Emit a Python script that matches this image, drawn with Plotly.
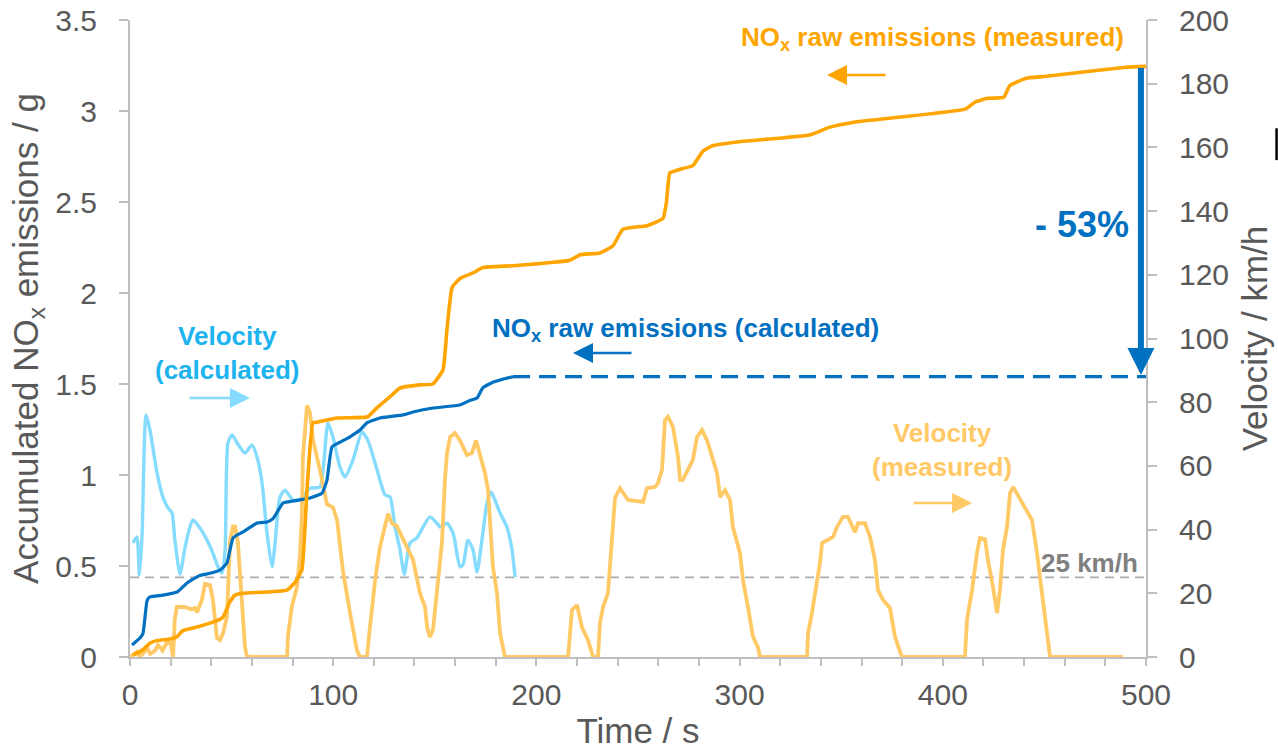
import plotly.graph_objects as go

# ---- measured NOx raw emissions (accumulated, g) ----
nox_meas_t = [1.5, 6.4, 9.8, 13, 19.7, 23, 26, 33, 42.8, 45.8, 49, 51.7, 55.6, 77.3, 81.2, 84.6,
              87, 90, 92, 101.9, 117, 121.6, 128, 132.9, 142.7, 149, 154, 156, 158.5, 162.4,
              168.8, 173.7, 188.5, 216.5, 221.5, 231.3, 237.7, 242.6, 254.4, 262.3, 264, 265.7,
              270.7, 277, 282, 287, 298.7, 335, 344, 357, 411, 416, 422, 430, 433, 441, 450, 490, 500]
nox_meas_g = [0.01, 0.04, 0.075, 0.09, 0.099, 0.11, 0.145, 0.165, 0.2, 0.22, 0.3, 0.34, 0.35, 0.368,
              0.41, 0.48, 0.9, 1.286, 1.29, 1.313, 1.32, 1.37, 1.43, 1.478, 1.495, 1.5, 1.577, 1.8,
              2.03, 2.08, 2.11, 2.14, 2.15, 2.18, 2.21, 2.22, 2.26, 2.35, 2.37, 2.41, 2.5, 2.66,
              2.68, 2.70, 2.78, 2.81, 2.83, 2.87, 2.91, 2.94, 3.01, 3.05, 3.07, 3.075, 3.14, 3.18,
              3.19, 3.24, 3.245]

# ---- calculated NOx raw emissions (accumulated, g) ----
nox_calc_t = [1, 4.9, 6.4, 8.4, 9.8, 16.2, 23.1, 28.1, 34, 39.4, 44.3, 47.7, 50.7, 55.6, 62.5,
              67.4, 70.4, 75.3, 80.2, 88.6, 94.5, 96.9, 99.4, 103.3, 108.3, 113.2, 116.6, 123,
              134.4, 139.3, 149.1, 162.4, 167.3, 170.8, 173.7, 178.6, 183, 188.5]
nox_calc_g = [0.066, 0.104, 0.13, 0.31, 0.33, 0.34, 0.357, 0.407, 0.447, 0.46, 0.478, 0.516,
              0.654, 0.687, 0.736, 0.742, 0.76, 0.846, 0.857, 0.874, 0.9, 0.97, 1.154, 1.18,
              1.21, 1.247, 1.286, 1.313, 1.33, 1.346, 1.368, 1.385, 1.41, 1.423, 1.48, 1.51,
              1.525, 1.54]

# extrapolated end of the calculated curve (dashed)
nox_calc_ext_t = [188.5, 500]
nox_calc_ext_g = [1.54, 1.54]

# ---- measured velocity (km/h) ----
vel_meas_t = [0, 3.4, 5, 8.4, 10, 12.3, 13.8, 16, 18, 20, 21.2, 22, 23, 27, 30, 32, 33, 35.4,
              36.9, 39.4, 40.8, 42.8, 44.3, 45.8, 47.7, 49.2, 50.7, 51.7, 53.1, 55.1, 56.6,
              57.6, 77.3, 77.8, 79.7, 82.2, 83.7, 84.6, 85.1, 87.1, 88.6, 90.1, 93.5, 96.9,
              99.9, 101.9, 104.8, 108.3, 111.7, 113.2, 116.6, 118.1, 120.6, 123, 127, 128.9,
              131.4, 134.4, 136.3, 139.3, 142.7, 145.2, 146.2, 147.6, 149.1, 150.1, 151.6,
              153.5, 154, 155, 156, 157.5, 159.9, 162.4, 165.8, 168.3, 170.3, 172.2, 174.7,
              176.2, 177.2, 178.6, 180.6, 182.1, 184.5, 215.6, 217.5, 220, 222.4, 225.4,
              227.9, 230.3, 231.3, 232.8, 235.2, 237.2, 238.7, 241.1, 245.1, 252.5, 254.4,
              258.4, 259.8, 261.8, 263.3, 264.8, 267.2, 269.7, 270.7, 272.1, 275.6, 277, 279,
              281.5, 284, 286.4, 288.9, 290.4, 292.8, 295.3, 296.7, 300.2, 301.7, 304.1,
              306.6, 309, 310, 333.2, 333.7, 335.6, 337.1, 339.6, 340.6, 343, 346, 347.9,
              350.9, 353.3, 356.8, 358.3, 361.7, 364.2, 366.6, 368.1, 370.6, 374, 376.5,
              379.9, 410.9, 411.9, 414.4, 416.8, 418.3, 420.8, 422.2, 424.7, 426.7, 428.1,
              429.6, 431.6, 433.1, 434.6, 437, 440.5, 443.9, 446.4, 448.8, 451.3, 452.8, 488.7]
vel_meas_kmh = [0, 1.6, 0, 2.8, 1, 2, 3.8, 2, 4.4, 4.4, 0, 11.6, 15.7, 15.7, 15, 15.4, 14, 18,
                23, 22.5, 18, 6, 5.3, 7.5, 12.6, 36, 41, 41, 36, 18, 3, 0, 0, 7, 16, 22, 32.6,
                45, 63, 79, 76.6, 68, 58.7, 48, 47, 43, 27, 13.8, 2, 0, 0, 9.4, 24, 34.5, 45,
                42, 41, 37, 34.5, 30.5, 20, 15.7, 9.4, 6.3, 8.5, 15.7, 24, 35.8, 45, 55.6, 64,
                69, 70.3, 68, 63.4, 64, 68, 64, 57.8, 52.4, 43, 28.3, 20, 7.5, 0, 0, 14.8,
                16.3, 9.4, 5.3, 0, 0, 10.7, 15.7, 20, 39, 50, 53, 49.3, 48.7, 53, 53.4, 54.6,
                58.7, 74.4, 75.4, 72.2, 62.8, 55.6, 55.6, 59.7, 61.9, 69, 71.3, 68, 62.8, 57.8,
                50.2, 52.4, 49.3, 40.8, 32.6, 24, 15.7, 6.3, 3.1, 0, 0, 7.5, 13.8, 19.5, 29.8,
                35.8, 36.7, 37.7, 40.8, 44, 44, 39.2, 42, 42, 37.7, 30.5, 21, 17.9, 15.4, 6.3,
                0, 0, 11.6, 21, 32.6, 37.4, 37, 30.5, 22, 13.8, 21, 33.6, 40.8, 51.5, 53.4,
                50.9, 46.8, 43, 32.6, 20, 7.5, 0, 0]

# ---- calculated velocity (km/h) ----
vel_calc_t = [1.5, 3.4, 4.6, 5.9, 7.9, 9.8, 13.3, 16.2, 18.7, 20.7, 22.1, 24.6, 27.1, 29.5, 31,
              34.4, 37.9, 40.8, 43.3, 45.3, 46.8, 48.2, 50.2, 52.7, 56.6, 60, 62.5, 65, 67.4,
              69.9, 71.4, 73.8, 76.3, 80.2, 83.7, 88.6, 93.5, 95.5, 97.4, 99.9, 103.3, 105.8,
              109.7, 114.2, 117.1, 121.6, 125.5, 128, 130.4, 132.9, 135, 137.8, 141.2, 144.2,
              147.6, 151.1, 152.6, 156, 159, 162.4, 163.9, 166.3, 168.8, 170.8, 173.2, 175.7,
              177.7, 179.6, 182.1, 185.5, 188, 189.5]
vel_calc_kmh = [35.8, 37.7, 25.7, 37.7, 76, 71.3, 57.8, 50.2, 46.8, 45.2, 36.7, 26, 34.5, 40.8,
                43, 40.5, 36.7, 32.6, 28.3, 26.4, 33.6, 67.2, 69.7, 67.2, 64, 66.6, 62.8, 54.6,
                38.9, 28.3, 35.8, 50.2, 52.4, 49.3, 49.5, 53, 53.4, 61.8, 73.5, 69, 59.7, 56.5,
                61.8, 70.6, 68, 58.7, 50.9, 50.2, 40.8, 33.6, 26, 35.8, 37.4, 40.8, 44, 42,
                40.8, 42, 38.9, 28.3, 29, 36.7, 33.6, 26.7, 36.7, 48.4, 51.8, 49.3, 45.2, 40.8,
                33.6, 25.1]

threshold_kmh = 25
reduction_label = "- 53%"

ORANGE = "#FFA500"
LIGHT_ORANGE = "#FFC966"
BLUE = "#0070C0"
LIGHT_BLUE = "#85DCFF"
CYAN_TEXT = "#1CB3EE"
GREY_TXT = "#595959"
AXIS_GREY = "#BFBFBF"
FONT = "Liberation Sans, Arial, sans-serif"

fig = go.Figure()

# velocities on the right-hand axis (drawn underneath)
fig.add_trace(go.Scatter(x=vel_calc_t, y=vel_calc_kmh, mode="lines", yaxis="y",
                         line=dict(color=LIGHT_BLUE, width=3.4, shape="spline", smoothing=0.6),
                         name="Velocity (calculated)"))
fig.add_trace(go.Scatter(x=vel_meas_t, y=vel_meas_kmh, mode="lines", yaxis="y",
                         line=dict(color=LIGHT_ORANGE, width=3.8),
                         name="Velocity (measured)"))

# accumulated NOx on the left-hand axis
fig.add_trace(go.Scatter(x=nox_calc_t, y=nox_calc_g, mode="lines", yaxis="y2",
                         line=dict(color=BLUE, width=3.2, shape="spline", smoothing=0.4),
                         name="NOx calculated"))
fig.add_trace(go.Scatter(x=nox_calc_ext_t, y=nox_calc_ext_g, mode="lines", yaxis="y2",
                         line=dict(color=BLUE, width=3.2, dash="17px,9px"),
                         name="NOx calculated (extended)"))
fig.add_trace(go.Scatter(x=nox_meas_t, y=nox_meas_g, mode="lines", yaxis="y2",
                         line=dict(color=ORANGE, width=3.6, shape="spline", smoothing=0.4),
                         name="NOx measured"))

tickfont = dict(family=FONT, size=30, color=GREY_TXT)
titlefont = dict(family=FONT, size=35, color=GREY_TXT)

fig.update_layout(
    width=1278, height=750, autosize=False,
    margin=dict(l=130, r=132, t=20, b=93),
    paper_bgcolor="white", plot_bgcolor="white",
    showlegend=False,
    font=dict(family=FONT),
    xaxis=dict(range=[0, 500], dtick=100, showgrid=False, zeroline=False, automargin=False,
               showline=True, linecolor=AXIS_GREY, linewidth=2,
               ticks="outside", ticklen=7, tickwidth=2, tickcolor=AXIS_GREY,
               minor=dict(dtick=20, ticks="outside", ticklen=7, tickwidth=2, tickcolor=AXIS_GREY),
               tickfont=tickfont, ticklabelstandoff=3,
               title=dict(text="Time / s", font=titlefont, standoff=12)),
    yaxis=dict(range=[0, 200], dtick=20, side="right", showgrid=False, zeroline=False,
               automargin=False,
               showline=True, linecolor=AXIS_GREY, linewidth=2,
               ticks="outside", ticklen=9, tickwidth=2, tickcolor=AXIS_GREY,
               tickfont=tickfont, ticklabelstandoff=16,
               title=dict(text="Velocity / km/h", font=titlefont, standoff=14)),
    yaxis2=dict(range=[0, 3.5], dtick=0.5, side="left", overlaying="y",
                showgrid=False, zeroline=False, automargin=False,
                showline=True, linecolor=AXIS_GREY, linewidth=2,
                ticks="outside", ticklen=9, tickwidth=2, tickcolor=AXIS_GREY,
                tickfont=tickfont, ticklabelstandoff=16,
                title=dict(text="Accumulated NO<sub>x</sub> emissions / g", font=titlefont,
                           standoff=6)),
)

# 25 km/h reference line
fig.add_shape(type="line", xref="x", yref="y", x0=0, x1=500,
              y0=threshold_kmh, y1=threshold_kmh, layer="below",
              line=dict(color="#ADADAD", width=1.6, dash="9px,6px"))

# small mark at the right edge
fig.add_shape(type="line", xref="paper", yref="paper", x0=1.1285, x1=1.1285,
              y0=0.78, y1=0.83, line=dict(color="black", width=2.5))

ann = []
bold = dict(family=FONT, size=26, weight="bold")

ann.append(dict(xref="x", yref="y2", x=395, y=3.40, showarrow=False,
                text="NO<sub>x</sub> raw emissions (measured)",
                font=dict(bold, color=ORANGE)))
ann.append(dict(xref="x", yref="y2", x=343, y=3.198, ax=60, ay=0, text="",
                showarrow=True, arrowhead=2, arrowsize=1.6, arrowwidth=2.5,
                arrowcolor=ORANGE))

ann.append(dict(xref="x", yref="y2", x=273.6, y=1.80, showarrow=False,
                text="NO<sub>x</sub> raw emissions (calculated)",
                font=dict(bold, color=BLUE)))
ann.append(dict(xref="x", yref="y2", x=218, y=1.67, ax=60, ay=0, text="",
                showarrow=True, arrowhead=2, arrowsize=1.6, arrowwidth=2.5,
                arrowcolor=BLUE))

ann.append(dict(xref="x", yref="y2", x=48.2, y=1.67, showarrow=False,
                text="Velocity<br>(calculated)", align="center",
                font=dict(bold, color=CYAN_TEXT)))
ann.append(dict(xref="x", yref="y2", x=59, y=1.423, ax=-62, ay=0, text="",
                showarrow=True, arrowhead=2, arrowsize=1.6, arrowwidth=2.5,
                arrowcolor=LIGHT_BLUE))

ann.append(dict(xref="x", yref="y2", x=399.6, y=1.137, showarrow=False,
                text="Velocity<br>(measured)", align="center",
                font=dict(bold, color=LIGHT_ORANGE)))
ann.append(dict(xref="x", yref="y2", x=414.4, y=0.846, ax=-60, ay=0, text="",
                showarrow=True, arrowhead=2, arrowsize=1.6, arrowwidth=2.5,
                arrowcolor=LIGHT_ORANGE))

ann.append(dict(xref="x", yref="y", x=497, y=29.5, xanchor="right", showarrow=False,
                text="25 km/h", font=dict(bold, color="#808080")))

# reduction arrow between measured and calculated totals
ann.append(dict(xref="x", yref="y2", axref="x", ayref="y2",
                x=497.5, y=nox_calc_ext_g[-1] + 0.01, ax=497.5, ay=nox_meas_g[-1],
                text="", showarrow=True, arrowhead=2, arrowsize=0.9, arrowwidth=6,
                arrowcolor=BLUE))
ann.append(dict(xref="x", yref="y2", x=468.5, y=2.374, showarrow=False,
                text=reduction_label, font=dict(family=FONT, size=36, weight="bold", color=BLUE)))

fig.update_layout(annotations=ann)

fig.write_html("out.html")
